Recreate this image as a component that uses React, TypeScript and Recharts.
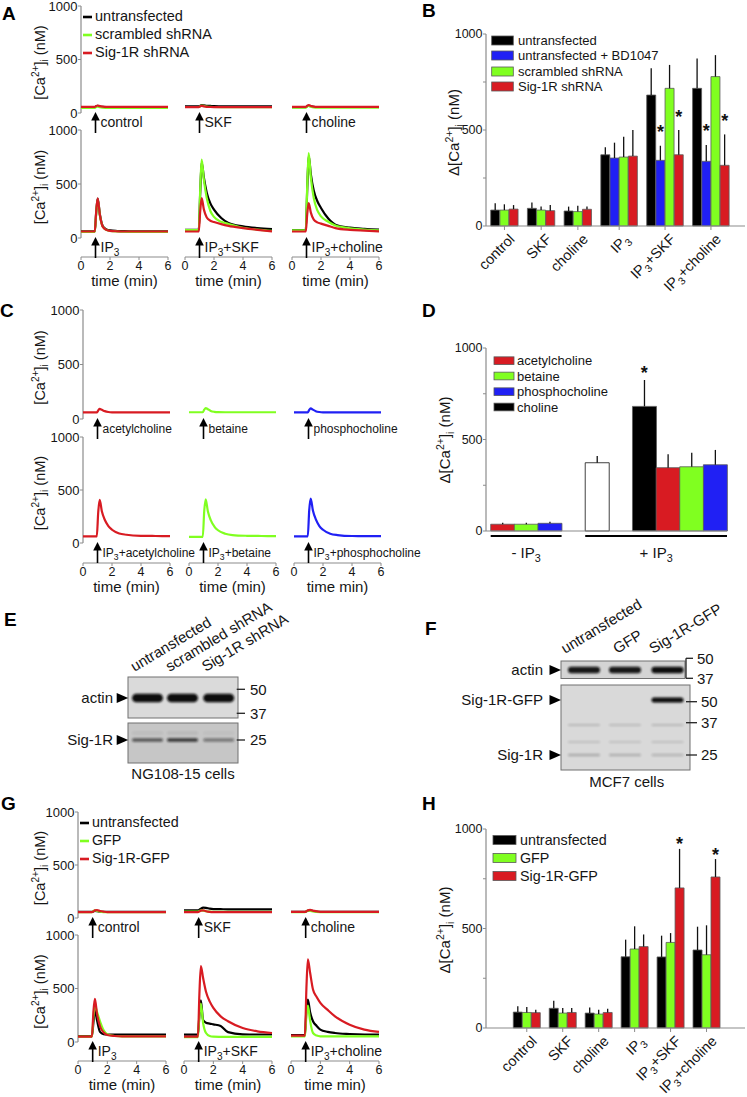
import React from 'react';
import {
  Bar,
  BarChart,
  Cell,
  ErrorBar,
  Line,
  LineChart,
  ReferenceDot,
  ReferenceLine,
  XAxis,
  YAxis,
} from 'recharts';

const FONT = 'Arial, "Liberation Sans", Helvetica, sans-serif';
const TEXT = '#151515';
const AXIS = '#8c8c8c';
const BLACK = '#000000';
const GREEN = '#80ff20';
const RED = '#d81b22';
const BLUE = '#2020f4';
const WHITE = '#ffffff';

// shared sampling of the Ca2+ traces (min); stimulus given at 1 min
const TIME_MIN = [0, 0.5, 0.95, 1.05, 1.15, 1.3, 1.5, 1.75, 2, 2.5, 3, 4, 5, 6];
const STIM_AT = 1;
const TIME_TICKS = [0, 2, 4, 6];
const CA_TICKS = [0, 500, 1000];
const BAR_TICKS = [0, 250, 500, 750, 1000];

// ---- Panel A traces (nM) ----
const A_CTRL_BLACK = [55, 55, 55, 62, 66, 60, 57, 56, 56, 56, 56, 56, 56, 56];
const A_CTRL_GREEN = [48, 48, 48, 56, 60, 54, 50, 48, 47, 47, 47, 47, 47, 47];
const A_CTRL_RED = [57, 57, 57, 66, 70, 64, 60, 58, 58, 58, 58, 58, 58, 58];
const A_SKF_BLACK = [62, 62, 62, 68, 74, 72, 68, 66, 64, 63, 62, 62, 62, 62];
const A_SKF_GREEN = [56, 56, 56, 64, 70, 66, 60, 57, 56, 55, 55, 55, 55, 55];
const A_SKF_RED = [55, 55, 55, 62, 66, 62, 58, 56, 55, 55, 55, 55, 55, 55];
const A_CHO_BLACK = [55, 55, 55, 64, 70, 63, 58, 56, 56, 56, 56, 56, 56, 56];
const A_CHO_GREEN = [50, 50, 50, 60, 66, 58, 52, 50, 50, 50, 50, 50, 50, 50];
const A_CHO_RED = [58, 58, 58, 68, 74, 66, 60, 58, 58, 58, 58, 58, 58, 58];
const A_IP3_BLACK = [62, 62, 62, 240, 365, 220, 110, 80, 70, 65, 63, 62, 62, 62];
const A_IP3_GREEN = [56, 56, 56, 230, 355, 210, 105, 75, 65, 60, 58, 57, 57, 57];
const A_IP3_RED = [60, 60, 60, 250, 368, 215, 105, 75, 66, 62, 60, 60, 60, 60];
const A_IP3SKF_BLACK = [76, 76, 76, 420, 700, 560, 420, 320, 262, 185, 139, 108, 92, 83];
const A_IP3SKF_GREEN = [74, 74, 74, 450, 725, 540, 370, 250, 195, 150, 130, 95, 78, 66];
const A_IP3SKF_RED = [60, 60, 60, 250, 370, 265, 190, 160, 148, 128, 112, 92, 76, 62];
const A_IP3CHO_BLACK = [74, 74, 74, 450, 760, 590, 440, 340, 278, 180, 123, 96, 85, 77];
const A_IP3CHO_GREEN = [70, 70, 70, 480, 787, 560, 370, 255, 200, 150, 115, 90, 78, 70];
const A_IP3CHO_RED = [60, 60, 60, 220, 324, 235, 170, 145, 133, 112, 92, 75, 68, 62];

// ---- Panel C traces ----
const C_ACH = [60, 60, 60, 78, 92, 84, 72, 64, 61, 60, 60, 60, 60, 60];
const C_BET = [62, 62, 62, 85, 100, 90, 74, 66, 63, 62, 62, 62, 62, 62];
const C_PCHO = [60, 60, 60, 84, 98, 86, 72, 64, 61, 60, 60, 60, 60, 60];
const C_IP3_ACH = [62, 62, 62, 290, 406, 300, 219, 160, 125, 90, 78, 68, 66, 65];
const C_IP3_BET = [58, 58, 58, 300, 412, 300, 215, 155, 120, 88, 75, 68, 66, 65];
const C_IP3_PCHO = [62, 62, 62, 310, 420, 310, 225, 160, 125, 88, 75, 66, 65, 64];

// ---- Panel G traces ----
const G_CTRL_BLACK = [58, 58, 58, 62, 66, 64, 60, 58, 58, 58, 58, 58, 58, 58];
const G_CTRL_GREEN = [56, 56, 56, 66, 72, 66, 60, 56, 55, 55, 55, 55, 55, 55];
const G_CTRL_RED = [56, 56, 56, 62, 72, 74, 66, 60, 56, 55, 55, 55, 55, 55];
const G_SKF_BLACK = [72, 72, 72, 78, 88, 98, 96, 88, 84, 83, 82, 82, 82, 82];
const G_SKF_GREEN = [60, 60, 60, 66, 72, 70, 64, 60, 58, 58, 58, 58, 58, 58];
const G_SKF_RED = [55, 55, 55, 62, 70, 72, 64, 58, 56, 55, 55, 55, 55, 55];
const G_CHO_BLACK = [58, 58, 58, 62, 68, 70, 66, 60, 58, 58, 58, 58, 58, 58];
const G_CHO_GREEN = [56, 56, 56, 64, 70, 68, 62, 57, 56, 56, 56, 56, 56, 56];
const G_CHO_RED = [58, 58, 58, 64, 72, 76, 70, 62, 58, 57, 57, 57, 57, 57];
const G_IP3_BLACK = [55, 55, 55, 180, 300, 200, 95, 74, 70, 69, 69, 69, 69, 69];
const G_IP3_GREEN = [50, 50, 50, 230, 340, 280, 194, 110, 72, 56, 52, 52, 52, 52];
const G_IP3_RED = [50, 50, 50, 280, 403, 260, 147, 88, 66, 56, 52, 52, 52, 52];
const G_IP3SKF_BLACK = [68, 68, 68, 250, 390, 205, 180, 172, 165, 150, 92, 72, 70, 70];
const G_IP3SKF_GREEN = [45, 45, 45, 250, 360, 180, 84, 56, 50, 48, 47, 47, 47, 47];
const G_IP3SKF_RED = [50, 50, 50, 450, 709, 600, 470, 380, 319, 240, 194, 131, 100, 84];
const G_IP3CHO_BLACK = [65, 65, 65, 300, 397, 280, 194, 150, 116, 95, 84, 75, 70, 69];
const G_IP3CHO_GREEN = [52, 52, 52, 250, 340, 200, 84, 60, 53, 52, 52, 52, 52, 52];
const G_IP3CHO_RED = [60, 60, 60, 500, 772, 650, 490, 420, 366, 300, 240, 162, 116, 94];

const A_NAMES = ['untransfected', 'scrambled shRNA', 'Sig-1R shRNA'];
const G_NAMES = ['untransfected', 'GFP', 'Sig-1R-GFP'];
const TRIO_COLORS = [BLACK, GREEN, RED];
const TOP_STIMS = ['control', 'SKF', 'choline'];
const BOTTOM_STIMS = ['IP3', 'IP3+SKF', 'IP3+choline'];
const C_TOP_STIMS = ['acetylcholine', 'betaine', 'phosphocholine'];
const C_BOTTOM_STIMS = ['IP3+acetylcholine', 'IP3+betaine', 'IP3+phosphocholine'];
const A_TITLES = ['time (min)', 'time (min)', 'time (min)'];
const CG_TITLES = ['time (min)', 'time (min)', 'time min)'];

// ---- Bar panels (nM, mean and upper error) ----
const B_GROUPS = ['control', 'SKF', 'choline', 'IP3', 'IP3+SKF', 'IP3+choline'];
const B_UNTRANSFECTED = [83, 92, 78, 371, 682, 717];
const B_UNTRANSFECTED_ERR = [35, 30, 23, 39, 139, 156];
const B_BD1047 = [null, null, null, 354, 342, 337];
const B_BD1047_ERR = [null, null, null, 80, 76, 85];
const B_SCRAMBLED = [83, 83, 75, 359, 717, 778];
const B_SCRAMBLED_ERR = [30, 18, 31, 106, 122, 112];
const B_SIG1R = [88, 80, 87, 364, 371, 316];
const B_SIG1R_ERR = [21, 29, 14, 136, 129, 161];
const B_SIGNIFICANT = [
  'IP3+SKF|untransfected + BD1047',
  'IP3+SKF|Sig-1R shRNA',
  'IP3+choline|untransfected + BD1047',
  'IP3+choline|Sig-1R shRNA',
];

const D_GROUPS = ['no IP3', 'IP3 alone', 'IP3 + compound'];
const D_CHOLINE = [null, null, 681];
const D_CHOLINE_ERR = [null, null, 144];
const D_ACH = [37, null, 346];
const D_ACH_ERR = [8, null, 73];
const D_BETAINE = [37, null, 351];
const D_BETAINE_ERR = [8, null, 77];
const D_PCHO = [42, null, 362];
const D_PCHO_ERR = [9, null, 81];
const D_IP3_ONLY = [null, 373, null];
const D_IP3_ONLY_ERR = [null, 37, null];
const D_SIGNIFICANT = ['IP3 + compound|choline'];
const D_BRACKETS = [
  { label: '- IP3', groups: [0] },
  { label: '+ IP3', groups: [1, 2] },
];

const H_UNTRANSFECTED = [80, 99, 75, 358, 357, 392];
const H_UNTRANSFECTED_ERR = [29, 38, 28, 86, 107, 117];
const H_GFP = [78, 75, 70, 397, 430, 368];
const H_GFP_ERR = [27, 25, 22, 114, 47, 148];
const H_SIG1R_GFP = [77, 78, 78, 409, 704, 759];
const H_SIG1R_GFP_ERR = [15, 22, 19, 61, 196, 90];
const H_SIGNIFICANT = ['IP3+SKF|Sig-1R-GFP', 'IP3+choline|Sig-1R-GFP'];

const B_SERIES = [
  { name: 'untransfected', color: BLACK, values: B_UNTRANSFECTED, errors: B_UNTRANSFECTED_ERR },
  { name: 'untransfected + BD1047', color: BLUE, values: B_BD1047, errors: B_BD1047_ERR },
  { name: 'scrambled shRNA', color: GREEN, values: B_SCRAMBLED, errors: B_SCRAMBLED_ERR },
  { name: 'Sig-1R shRNA', color: RED, values: B_SIG1R, errors: B_SIG1R_ERR },
];
const D_SERIES = [
  { name: 'choline', color: BLACK, values: D_CHOLINE, errors: D_CHOLINE_ERR },
  { name: 'acetylcholine', color: RED, values: D_ACH, errors: D_ACH_ERR },
  { name: 'betaine', color: GREEN, values: D_BETAINE, errors: D_BETAINE_ERR },
  { name: 'phosphocholine', color: BLUE, values: D_PCHO, errors: D_PCHO_ERR },
  { name: 'IP3', color: WHITE, values: D_IP3_ONLY, errors: D_IP3_ONLY_ERR },
];
const D_LEGEND_ORDER = [1, 2, 3, 0];
const H_SERIES = [
  { name: 'untransfected', color: BLACK, values: H_UNTRANSFECTED, errors: H_UNTRANSFECTED_ERR },
  { name: 'GFP', color: GREEN, values: H_GFP, errors: H_GFP_ERR },
  { name: 'Sig-1R-GFP', color: RED, values: H_SIG1R_GFP, errors: H_SIG1R_GFP_ERR },
];

// ---- western blots (band intensity per lane) ----
const E_LANES = [147.5, 182.5, 218.7];
const E_LANE_LABELS = ['untransfected', 'scrambled shRNA', 'Sig-1R shRNA'];
const E_ACTIN = [1, 1, 1];
const E_SIG1R = [0.6, 0.78, 0.42];
const F_LANES = [584, 625, 667.5];
const F_LANE_LABELS = ['untransfected', 'GFP', 'Sig-1R-GFP'];
const F_ACTIN = [0.95, 0.95, 1];
const F_SIG1R_GFP = [0, 0, 1];
const F_FAINT = [0.16, 0.15, 0.16];
const F_SIG1R = [0.22, 0.2, 0.17];

// layout of the trace panels (pixel rows of the 1000 / 0 levels)
const A_GEOM = { lefts: [81, 185, 292], width: 87, top: { y1000: 6, y0: 113 }, bottom: { y1000: 130, y0: 238, axis: 257 } };
const C_GEOM = { lefts: [83, 189, 294], width: 87, top: { y1000: 310, y0: 419 }, bottom: { y1000: 437, y0: 543, axis: 563 } };
const G_GEOM = { lefts: [78, 184, 291], width: 88, top: { y1000: 812, y0: 918 }, bottom: { y1000: 935, y0: 1042, axis: 1061 } };

const mk = (colors: string[], arrays: number[][]) => arrays.map((values, k) => ({ color: colors[k], values }));

function Sub3({ text, fs }: { text: string; fs: number }) {
  const at = text.indexOf('IP3');
  if (at < 0) return <>{text}</>;
  const d = fs * 0.28;
  const rest = text.slice(at + 3);
  return (
    <>
      <tspan>{text.slice(0, at + 2)}</tspan>
      <tspan dy={d} fontSize={fs * 0.72}>3</tspan>
      {rest ? <tspan dy={-d}>{rest}</tspan> : null}
    </>
  );
}

function StimArrow({ cx, cy, label, fs }: any) {
  const tip = cy - 1;
  return (
    <g>
      <line x1={cx} x2={cx} y1={tip + 6} y2={tip + 21} stroke="#000" strokeWidth={1.6} />
      <path d={`M${cx} ${tip} L${cx + 4.3} ${tip + 8.5} L${cx - 4.3} ${tip + 8.5} Z`} fill="#000" />
      <text x={cx + 5} y={tip + 15} fontSize={fs} fill={TEXT} fontFamily={FONT}>
        <Sub3 text={label} fs={fs} />
      </text>
    </g>
  );
}

function TracePlot({ left, width, row, traces, showY, stim, fs, title }: any) {
  const px = (row.y0 - row.y1000) / 1000;
  const bottom = row.axis ?? row.y0 + 22;
  const yMin = -(bottom - row.y0) / px;
  const yw = showY ? 44 : 0;
  const padL = showY ? 0 : 8;
  const mTop = 8;
  const xh = title ? 27 : 0;
  const data = TIME_MIN.map((t, i) => {
    const r: Record<string, number> = { t };
    traces.forEach((tr: any, k: number) => {
      r[`s${k}`] = tr.values[i];
    });
    return r;
  });
  return (
    <div style={{ position: 'absolute', left: left - yw - padL, top: row.y1000 - mTop }}>
      <LineChart
        width={yw + padL + width + 8}
        height={mTop + (bottom - row.y1000) + xh + 4}
        data={data}
        margin={{ top: mTop, right: 8, bottom: 4, left: padL }}
      >
        <XAxis
          type="number"
          dataKey="t"
          domain={[0, 6]}
          ticks={TIME_TICKS}
          hide={!title}
          height={xh}
          tickSize={3}
          tickMargin={1}
          tick={{ fontSize: 12.5, fill: TEXT, fontFamily: FONT }}
          tickLine={{ stroke: AXIS }}
          axisLine={{ stroke: AXIS, strokeWidth: 1.2 }}
          label={title ? { value: title, position: 'insideBottom', offset: -1.5, fontSize: 15, fill: TEXT, fontFamily: FONT } : undefined}
        />
        <YAxis
          type="number"
          domain={[yMin, 1000]}
          ticks={CA_TICKS}
          hide={!showY}
          width={yw}
          axisLine={false}
          tickSize={3}
          tickMargin={0.5}
          tick={{ fontSize: 13, fill: TEXT, fontFamily: FONT }}
          tickLine={{ stroke: AXIS }}
        />
        {showY && (
          <ReferenceLine segment={[{ x: 0, y: 0 }, { x: 0, y: 1000 }]} stroke={AXIS} strokeWidth={1.2} />
        )}
        {traces.map((tr: any, k: number) => (
          <Line
            key={k}
            type="monotone"
            dataKey={`s${k}`}
            stroke={tr.color}
            strokeWidth={2.2}
            dot={false}
            activeDot={false}
            isAnimationActive={false}
          />
        ))}
        <ReferenceDot
          x={STIM_AT}
          y={0}
          r={0}
          ifOverflow="visible"
          shape={(p: any) => <StimArrow cx={p.cx} cy={p.cy} label={stim} fs={fs} />}
        />
      </LineChart>
    </div>
  );
}

function TraceRow({ geom, row, sets, stims, titles, fs }: any) {
  return (
    <>
      {sets.map((traces: any, i: number) => (
        <TracePlot
          key={i}
          left={geom.lefts[i]}
          width={geom.width}
          row={row}
          traces={traces}
          showY={i === 0}
          stim={stims[i]}
          fs={fs}
          title={titles ? titles[i] : undefined}
        />
      ))}
    </>
  );
}

function buildSlots(groups: string[], series: any[], significant: string[]) {
  const rows: any[] = [];
  const centers: number[] = [];
  const ranges: number[][] = [];
  groups.forEach((g, gi) => {
    if (gi > 0) rows.push({ slot: `gap${gi}`, value: null, err: null, color: 'none', stroke: 'none', sig: false });
    const start = rows.length;
    series.forEach((s) => {
      const v = s.values[gi];
      if (v == null) return;
      rows.push({
        slot: `${g}|${s.name}`,
        value: v,
        err: [0, s.errors[gi] ?? 0],
        top: v + (s.errors[gi] ?? 0),
        color: s.color,
        stroke: s.color === WHITE ? '#111' : '#5a5a5a',
        sig: significant.includes(`${g}|${s.name}`),
      });
    });
    centers.push((start + rows.length) / 2);
    ranges.push([start, rows.length]);
  });
  return { rows, centers, ranges };
}

function SlantTick({ x, y, payload, tickVals, labels }: any) {
  const i = tickVals.indexOf(payload.value);
  return (
    <g transform={`translate(${x + 7.5},${y + 4.5})`}>
      <text transform="rotate(-45)" textAnchor="end" dy="0.35em" fontSize={14.5} fill={TEXT} fontFamily={FONT}>
        <Sub3 text={labels[i] ?? ''} fs={14.5} />
      </text>
    </g>
  );
}

function BracketTick({ x, y, payload, info, tickVals, slotPx }: any) {
  const b = info[tickVals.indexOf(payload.value)];
  if (!b) return null;
  const half = (b.span * slotPx) / 2;
  return (
    <g>
      <line x1={x - half} x2={x + half} y1={y + 5} y2={y + 5} stroke="#000" strokeWidth={1.8} />
      <text x={x} y={y + 27} textAnchor="middle" fontSize={15} fill={TEXT} fontFamily={FONT}>
        <Sub3 text={b.label} fs={15} />
      </text>
    </g>
  );
}

const BAR_AXIS_X = 486;
const BAR_DIV_X = 420;

function BarPanel({ y1000, y0, right, groups, series, significant, padL, padR, xh, starGap, brackets }: any) {
  const { rows, centers, ranges } = buildSlots(groups, series, significant);
  const n = rows.length;
  const mTop = 30;
  const slotPx = (right - BAR_AXIS_X - padL - padR) / n;
  const info = brackets
    ? brackets.map((b: any) => {
        const s = ranges[b.groups[0]][0];
        const e = ranges[b.groups[b.groups.length - 1]][1];
        return { label: b.label, center: (s + e) / 2, span: e - s };
      })
    : null;
  // group axis is indexed by slot centre: index i sits in the middle of slot i
  const tickVals = (info ? info.map((b: any) => b.center) : centers).map((c: number) => c - 0.5);
  const tick = (p: any) =>
    info ? (
      <BracketTick {...p} info={info} tickVals={tickVals} slotPx={slotPx} />
    ) : (
      <SlantTick {...p} tickVals={tickVals} labels={groups} />
    );
  return (
    <div style={{ position: 'absolute', left: BAR_DIV_X, top: y1000 - mTop }}>
      <BarChart
        width={right - BAR_DIV_X + 2}
        height={mTop + (y0 - y1000) + xh}
        data={rows}
        margin={{ top: mTop, right: 2, bottom: 0, left: 0 }}
        barCategoryGap={0}
        barGap={0}
      >
        <XAxis dataKey="slot" type="category" hide height={0} padding={{ left: padL, right: padR }} />
        <XAxis
          xAxisId="grp"
          type="number"
          domain={[0, n - 1]}
          ticks={tickVals}
          interval={0}
          allowDataOverflow
          padding={{ left: padL + slotPx / 2, right: padR + slotPx / 2 }}
          height={xh}
          tick={tick}
          tickSize={info ? 0 : 4}
          tickMargin={info ? 0 : 2}
          tickLine={info ? false : { stroke: AXIS }}
          axisLine={{ stroke: AXIS, strokeWidth: 1.2 }}
        />
        <YAxis
          type="number"
          domain={[0, 1000]}
          ticks={BAR_TICKS}
          interval={0}
          width={BAR_AXIS_X - BAR_DIV_X}
          tickFormatter={(v: number) => (v % 500 === 0 ? String(v) : '')}
          tick={{ fontSize: 12.5, fill: TEXT, fontFamily: FONT }}
          tickSize={3}
          tickMargin={0.5}
          tickLine={{ stroke: AXIS }}
          axisLine={{ stroke: AXIS, strokeWidth: 1.2 }}
        />
        <Bar dataKey="value" isAnimationActive={false} strokeWidth={0.8}>
          {rows.map((r: any) => (
            <Cell key={r.slot} fill={r.color} stroke={r.stroke} />
          ))}
          <ErrorBar dataKey="err" width={0} stroke="#111" strokeWidth={1.3} isAnimationActive={false} />
        </Bar>
        {rows
          .filter((r: any) => r.sig)
          .map((r: any) => (
            <ReferenceDot
              key={`star-${r.slot}`}
              x={r.slot}
              y={r.top}
              r={0}
              ifOverflow="visible"
              shape={(p: any) => (
                <text x={p.cx} y={p.cy - starGap + 10.5} textAnchor="middle" fontSize={18} fontWeight="bold" fill="#111" fontFamily={FONT}>
                  *
                </text>
              )}
            />
          ))}
      </BarChart>
    </div>
  );
}

function CaLabel({ x, y, fs, delta }: any) {
  const s = fs * 0.7;
  const up = fs * 0.4;
  const down = fs * 0.24;
  return (
    <text x={x} y={y} transform={`rotate(-90 ${x} ${y})`} textAnchor="middle" fontSize={fs} fill={TEXT} fontFamily={FONT}>
      {delta ? 'Δ[Ca' : '[Ca'}
      <tspan dy={-up} fontSize={s}>2+</tspan>
      <tspan dy={up}>]</tspan>
      <tspan dy={down} fontSize={s}>i</tspan>
      <tspan dy={-down}> (nM)</tspan>
    </text>
  );
}

function LineLegend({ x, ys, names, colors, fs }: any) {
  return (
    <g>
      {names.map((n: string, i: number) => (
        <g key={n}>
          <line x1={x} x2={x + 9} y1={ys[i] + 1.5} y2={ys[i] + 1.5} stroke={colors[i]} strokeWidth={2.6} />
          <text x={x + 12} y={ys[i] + fs * 0.36} fontSize={fs} fill={TEXT} fontFamily={FONT}>
            {n}
          </text>
        </g>
      ))}
    </g>
  );
}

function BoxLegend({ x, w, h, ys, textX, items, fs }: any) {
  return (
    <g>
      {items.map((it: any, i: number) => (
        <g key={it.name}>
          <rect x={x} y={ys[i] - h / 2} width={w} height={h} fill={it.color} stroke="#5a5a5a" strokeWidth={0.8} />
          <text x={textX} y={ys[i] + fs * 0.36} fontSize={fs} fill={TEXT} fontFamily={FONT}>
            {it.name}
          </text>
        </g>
      ))}
    </g>
  );
}

function Blot({ x, y, w, h, bg, lanes, bandW, bands }: any) {
  return (
    <g>
      <rect x={x} y={y} width={w} height={h} fill={bg} stroke="#707070" strokeWidth={1} />
      {bands.map((b: any, bi: number) =>
        lanes.map((c: number, li: number) =>
          b.levels[li] > 0 ? (
            <rect
              key={`${bi}-${li}`}
              x={c - bandW / 2}
              y={b.y - b.h / 2}
              width={bandW}
              height={b.h}
              rx={b.h / 2}
              fill="#0b0b0b"
              opacity={b.levels[li]}
              filter="url(#bandBlur)"
            />
          ) : null,
        ),
      )}
    </g>
  );
}

function SideLabel({ text, endX, triX, y }: any) {
  return (
    <g>
      <text x={endX} y={y + 5.3} textAnchor="end" fontSize={15} fill={TEXT} fontFamily={FONT}>
        {text}
      </text>
      <path d={`M${triX} ${y - 5} L${triX + 11.5} ${y} L${triX} ${y + 5} Z`} fill="#000" />
    </g>
  );
}

function Marker({ label, y, x1, x2, tx }: any) {
  return (
    <g>
      <line x1={x1} x2={x2} y1={y} y2={y} stroke="#222" strokeWidth={1.3} />
      <text x={tx} y={y + 5.3} fontSize={15} fill={TEXT} fontFamily={FONT}>
        {label}
      </text>
    </g>
  );
}

function LaneLabels({ labels, xs, y }: any) {
  return (
    <g>
      {labels.map((t: string, i: number) => (
        <text key={t} x={xs[i]} y={y} transform={`rotate(-31 ${xs[i]} ${y})`} fontSize={15} fill={TEXT} fontFamily={FONT}>
          {t}
        </text>
      ))}
    </g>
  );
}

function PanelLetter({ ch, x, y }: any) {
  return (
    <text x={x} y={y} fontSize={19} fontWeight="bold" fill="#000" fontFamily={FONT}>
      {ch}
    </text>
  );
}

export default function App() {
  return (
    <div style={{ position: 'absolute', left: 0, top: 0, width: 747, height: 1097, background: '#fff', overflow: 'hidden' }}>
      <style>{'.recharts-surface{overflow:visible}'}</style>

      {/* A */}
      <TraceRow
        geom={A_GEOM}
        row={A_GEOM.top}
        fs={14}
        stims={TOP_STIMS}
        sets={[
          mk(TRIO_COLORS, [A_CTRL_BLACK, A_CTRL_GREEN, A_CTRL_RED]),
          mk(TRIO_COLORS, [A_SKF_BLACK, A_SKF_GREEN, A_SKF_RED]),
          mk(TRIO_COLORS, [A_CHO_BLACK, A_CHO_GREEN, A_CHO_RED]),
        ]}
      />
      <TraceRow
        geom={A_GEOM}
        row={A_GEOM.bottom}
        fs={14}
        stims={BOTTOM_STIMS}
        titles={A_TITLES}
        sets={[
          mk(TRIO_COLORS, [A_IP3_BLACK, A_IP3_GREEN, A_IP3_RED]),
          mk(TRIO_COLORS, [A_IP3SKF_BLACK, A_IP3SKF_GREEN, A_IP3SKF_RED]),
          mk(TRIO_COLORS, [A_IP3CHO_BLACK, A_IP3CHO_GREEN, A_IP3CHO_RED]),
        ]}
      />

      {/* C */}
      <TraceRow
        geom={C_GEOM}
        row={C_GEOM.top}
        fs={12}
        stims={C_TOP_STIMS}
        sets={[mk([RED], [C_ACH]), mk([GREEN], [C_BET]), mk([BLUE], [C_PCHO])]}
      />
      <TraceRow
        geom={C_GEOM}
        row={C_GEOM.bottom}
        fs={12}
        stims={C_BOTTOM_STIMS}
        titles={CG_TITLES}
        sets={[mk([RED], [C_IP3_ACH]), mk([GREEN], [C_IP3_BET]), mk([BLUE], [C_IP3_PCHO])]}
      />

      {/* G */}
      <TraceRow
        geom={G_GEOM}
        row={G_GEOM.top}
        fs={14}
        stims={TOP_STIMS}
        sets={[
          mk(TRIO_COLORS, [G_CTRL_BLACK, G_CTRL_GREEN, G_CTRL_RED]),
          mk(TRIO_COLORS, [G_SKF_BLACK, G_SKF_GREEN, G_SKF_RED]),
          mk(TRIO_COLORS, [G_CHO_BLACK, G_CHO_GREEN, G_CHO_RED]),
        ]}
      />
      <TraceRow
        geom={G_GEOM}
        row={G_GEOM.bottom}
        fs={14}
        stims={BOTTOM_STIMS}
        titles={CG_TITLES}
        sets={[
          mk(TRIO_COLORS, [G_IP3_BLACK, G_IP3_GREEN, G_IP3_RED]),
          mk(TRIO_COLORS, [G_IP3SKF_BLACK, G_IP3SKF_GREEN, G_IP3SKF_RED]),
          mk(TRIO_COLORS, [G_IP3CHO_BLACK, G_IP3CHO_GREEN, G_IP3CHO_RED]),
        ]}
      />

      {/* B, D, H */}
      <BarPanel y1000={34} y0={226} right={745} groups={B_GROUPS} series={B_SERIES} significant={B_SIGNIFICANT} padL={4.7} padR={15.7} xh={114} starGap={18} />
      <BarPanel y1000={348} y0={531} right={727} groups={D_GROUPS} series={D_SERIES} significant={D_SIGNIFICANT} padL={4.7} padR={0} xh={40} starGap={12} brackets={D_BRACKETS} />
      <BarPanel y1000={829.3} y0={1028.3} right={745} groups={B_GROUPS} series={H_SERIES} significant={H_SIGNIFICANT} padL={27.3} padR={25} xh={68} starGap={9} />

      <svg width={747} height={1097} style={{ position: 'absolute', left: 0, top: 0, pointerEvents: 'none' }}>
        <defs>
          <filter id="bandBlur" x="-20%" y="-150%" width="140%" height="400%">
            <feGaussianBlur stdDeviation="0.8" />
          </filter>
        </defs>

        <PanelLetter ch="A" x={2} y={20} />
        <PanelLetter ch="B" x={422} y={17} />
        <PanelLetter ch="C" x={0} y={317} />
        <PanelLetter ch="D" x={422} y={317} />
        <PanelLetter ch="E" x={4} y={626} />
        <PanelLetter ch="F" x={425} y={635} />
        <PanelLetter ch="G" x={1} y={810} />
        <PanelLetter ch="H" x={422} y={810} />

        <CaLabel x={45} y={62.5} fs={14.5} />
        <CaLabel x={45} y={187} fs={14.5} />
        <CaLabel x={45} y={367.5} fs={14.5} />
        <CaLabel x={45} y={493} fs={14.5} />
        <CaLabel x={45} y={868} fs={14.5} />
        <CaLabel x={45} y={991.5} fs={14.5} />
        <CaLabel x={459} y={132.5} fs={15} delta />
        <CaLabel x={450} y={440} fs={15} delta />
        <CaLabel x={450} y={930} fs={15} delta />

        <LineLegend x={83} ys={[15.5, 33.5, 51.5]} names={A_NAMES} colors={TRIO_COLORS} fs={14.5} />
        <LineLegend x={80} ys={[821.5, 839.5, 857.5]} names={G_NAMES} colors={TRIO_COLORS} fs={14.3} />
        <BoxLegend x={491.7} w={21.6} h={9} ys={[40.5, 55.5, 71.5, 86.5]} textX={518} items={B_SERIES} fs={13} />
        <BoxLegend x={494} w={20} h={7.7} ys={[360.7, 376, 391.7, 407]} textX={517} items={D_LEGEND_ORDER.map((i) => D_SERIES[i])} fs={13} />
        <BoxLegend x={493} w={23} h={9} ys={[840, 858, 876]} textX={520} items={H_SERIES} fs={14.3} />

        {/* E blot */}
        <LaneLabels labels={E_LANE_LABELS} xs={E_LANES.map((c) => c - 13)} y={672} />
        <Blot x={128} y={677} w={110} h={41} bg="#dadada" lanes={E_LANES} bandW={31} bands={[{ y: 698, h: 8.5, levels: E_ACTIN }]} />
        <Blot
          x={128}
          y={723}
          w={110}
          h={40}
          bg="#c6c6c6"
          lanes={E_LANES}
          bandW={31}
          bands={[
            { y: 733, h: 3, levels: E_SIG1R.map((v) => v * 0.1) },
            { y: 740, h: 3.5, levels: E_SIG1R },
          ]}
        />
        <SideLabel text="actin" endX={113} triX={116.7} y={698} />
        <SideLabel text="Sig-1R" endX={113} triX={116.7} y={740} />
        <Marker label="50" y={689.3} x1={236.7} x2={245} tx={250} />
        <Marker label="37" y={713.3} x1={236.7} x2={245} tx={250} />
        <Marker label="25" y={740} x1={236.7} x2={245} tx={250} />
        <text x={183} y={779} textAnchor="middle" fontSize={15} fill={TEXT} fontFamily={FONT}>
          NG108-15 cells
        </text>

        {/* F blot */}
        <LaneLabels labels={F_LANE_LABELS} xs={[565, 617, 653]} y={654} />
        <Blot x={561} y={661} w={124} h={17.5} bg="#d4d4d4" lanes={F_LANES} bandW={32} bands={[{ y: 670, h: 6.5, levels: F_ACTIN }]} />
        <Blot
          x={561}
          y={685}
          w={129}
          h={85}
          bg="#d9d9d9"
          lanes={F_LANES}
          bandW={32}
          bands={[
            { y: 700, h: 5, levels: F_SIG1R_GFP },
            { y: 725, h: 2.2, levels: F_FAINT },
            { y: 742, h: 2, levels: F_FAINT.map((v) => v * 0.8) },
            { y: 755, h: 2.6, levels: F_SIG1R },
          ]}
        />
        <SideLabel text="actin" endX={543} triX={549.5} y={670} />
        <SideLabel text="Sig-1R-GFP" endX={543} triX={549.5} y={700} />
        <SideLabel text="Sig-1R" endX={543} triX={549.5} y={755} />
        <line x1={686} x2={686} y1={658.3} y2={678.3} stroke="#222" strokeWidth={1.3} />
        <Marker label="50" y={658.3} x1={686} x2={693} tx={697} />
        <Marker label="37" y={678.3} x1={686} x2={693} tx={697} />
        <Marker label="50" y={701.7} x1={686} x2={697} tx={701} />
        <Marker label="37" y={722.7} x1={686} x2={697} tx={701} />
        <Marker label="25" y={755} x1={686} x2={697} tx={701} />
        <text x={626.7} y={787} textAnchor="middle" fontSize={15} fill={TEXT} fontFamily={FONT}>
          MCF7 cells
        </text>
      </svg>
    </div>
  );
}
